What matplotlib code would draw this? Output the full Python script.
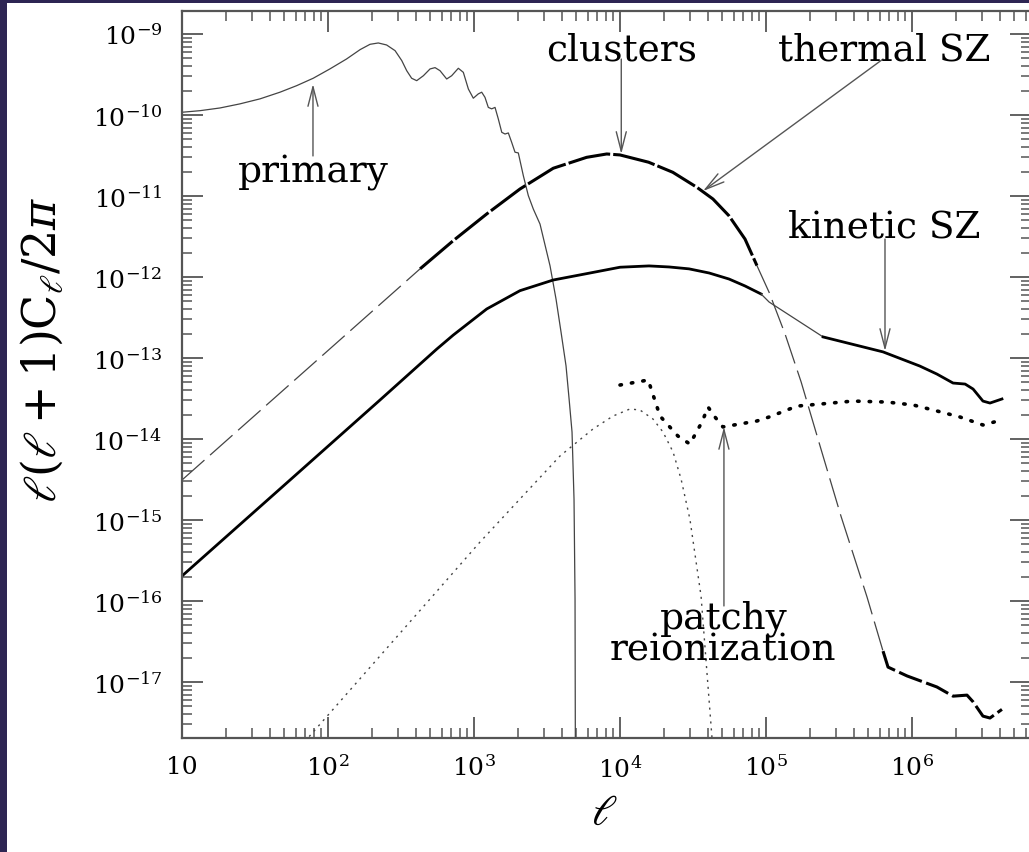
import numpy as np
import matplotlib
matplotlib.use("Agg")
import matplotlib.pyplot as plt
from matplotlib.patches import Rectangle
from matplotlib.ticker import FuncFormatter, FixedLocator, LogLocator, NullFormatter

plt.rcParams['font.family'] = ['DejaVu Serif']
plt.rcParams['mathtext.fontset'] = 'dejavuserif'

# primary CMB
prim_l = np.array([10, 13.3, 18.2, 24.9, 34.2, 46.9, 61.0, 79.2, 103, 134, 166, 194, 221,
                   252, 288, 320, 346, 374, 405, 450, 500, 541, 585, 650, 703, 781, 845,
                   915, 989, 1070, 1129, 1189, 1253, 1321, 1393, 1467, 1549, 1631, 1718,
                   1811, 1909, 2011, 2177, 2355, 2548, 2832, 3318, 3648, 3945, 4268, 4480,
                   4692, 4842, 4920, 4960])
prim_cl = np.array([1.08e-10, 1.13e-10, 1.22e-10, 1.37e-10, 1.58e-10, 1.91e-10, 2.30e-10,
                    2.84e-10, 3.70e-10, 4.91e-10, 6.41e-10, 7.45e-10, 7.74e-10, 7.31e-10,
                    6.22e-10, 4.69e-10, 3.52e-10, 2.84e-10, 2.65e-10, 3.05e-10, 3.70e-10,
                    3.84e-10, 3.52e-10, 2.78e-10, 3.05e-10, 3.77e-10, 3.36e-10, 2.09e-10,
                    1.61e-10, 1.82e-10, 1.91e-10, 1.65e-10, 1.24e-10, 1.19e-10, 1.24e-10,
                    8.93e-11, 6.11e-11, 5.82e-11, 6.0e-11, 4.6e-11, 3.47e-11, 3.40e-11,
                    1.78e-11, 1.01e-11, 6.9e-12, 4.5e-12, 1.37e-12, 5.3e-13, 2.09e-13,
                    8.0e-14, 3.12e-14, 1.22e-14, 1.8e-15, 1.06e-16, 1e-19])

# thermal SZ from clusters
tsz_l = np.array([10, 427, 721, 1222, 2065, 3490, 5910, 8110, 10000, 15700, 23000, 33600,
                  43300, 55700, 71800, 86700, 1.05e5, 1.35e5, 1.74e5, 2.38e5, 3.26e5,
                  4.92e5, 6.33e5, 6.85e5, 9.25e5, 1.48e6, 1.91e6, 2.38e6, 2.62e6, 3.06e6,
                  3.42e6, 4.13e6])
tsz_cl = np.array([3.12e-15, 1.26e-12, 2.81e-12, 6.0e-12, 1.22e-11, 2.2e-11, 3.0e-11,
                   3.30e-11, 3.21e-11, 2.61e-11, 1.96e-11, 1.28e-11, 9.18e-12, 5.71e-12,
                   2.94e-12, 1.38e-12, 6.47e-13, 1.98e-13, 5.06e-14, 7.5e-15, 1.12e-15,
                   1.12e-16, 2.41e-17, 1.53e-17, 1.19e-17, 8.7e-18, 6.7e-18, 6.9e-18,
                   5.7e-18, 3.8e-18, 3.6e-18, 4.6e-18])

# kinetic SZ
ksz_l = np.array([10, 46.9, 227, 556, 721, 1222, 2065, 3490, 5910, 10000, 15800, 21700,
                  29700, 40800, 55800, 71800, 92500, 1.05e5, 2.46e5, 6.33e5, 1.13e6, 1.48e6,
                  1.91e6, 2.31e6, 2.62e6, 3.06e6, 3.42e6, 4.13e6])
ksz_cl = np.array([2.04e-16, 2.42e-15, 3.03e-14, 1.29e-13, 1.92e-13, 4.03e-13, 6.78e-13,
                   9.18e-13, 1.10e-12, 1.32e-12, 1.37e-12, 1.33e-12, 1.26e-12, 1.12e-12,
                   9.44e-13, 7.75e-13, 6.17e-13, 4.91e-13, 1.82e-13, 1.19e-13, 7.96e-14,
                   6.34e-14, 4.91e-14, 4.77e-14, 4.14e-14, 2.94e-14, 2.78e-14, 3.12e-14])

# patchy reionization
patchy_l = np.array([10000, 15600, 18800, 24900, 30100, 36400, 40100, 44700, 50700, 86700,
                     1.05e5, 1.63e5, 2.34e5, 3.94e5, 6.74e5, 1.02e6, 1.48e6, 2.13e6, 3.06e6, 3.88e6])
patchy_cl = np.array([4.64e-14, 5.35e-14, 1.92e-14, 1.09e-14, 8.67e-15, 1.62e-14, 2.48e-14,
                      1.87e-14, 1.41e-14, 1.67e-14, 1.87e-14, 2.55e-14, 2.70e-14, 2.94e-14,
                      2.86e-14, 2.63e-14, 2.22e-14, 1.87e-14, 1.49e-14, 1.67e-14])

# low-l reionization component (thin dotted)
reion_l = np.array([64.3, 500, 1099, 2065, 3880, 6530, 8950, 11700, 13700, 16800, 19700,
                    23100, 26200, 30100, 35900, 42700, 43300])
reion_cl = np.array([1.58e-18, 1.06e-16, 5.35e-16, 1.82e-15, 6.17e-15, 1.33e-14, 1.92e-14,
                     2.35e-14, 2.28e-14, 1.77e-14, 1.22e-14, 6.9e-15, 3.2e-15, 1.03e-15,
                     1.15e-16, 2e-18, 1e-18])

xticks = [1e1, 1e2, 1e3, 1e4, 1e5, 1e6]
yticks = [1e-17, 1e-16, 1e-15, 1e-14, 1e-13, 1e-12, 1e-11, 1e-10, 1e-9]

fig = plt.figure(figsize=(10.29, 8.53), dpi=100)
fig.patch.set_facecolor('#2d2553')
fig.patches.append(Rectangle((7 / 1029, 0), 1, 1 - 4 / 853, transform=fig.transFigure,
                             facecolor='white', edgecolor='none', zorder=-5))
ax = fig.add_axes([182 / 1029, 114 / 853, 849 / 1029, 727 / 853])

thin = '#444444'
ax.plot(prim_l, prim_cl, color=thin, lw=0.9)

# tSZ: thin dashed at low l and along the steep drop, thick elsewhere
m = tsz_l <= 427
ax.plot(tsz_l[m], tsz_cl[m], color=thin, lw=0.9, dashes=(24, 6))
m = (tsz_l >= 427) & (tsz_l <= 86700)
ax.plot(tsz_l[m], tsz_cl[m], color='black', lw=2.2, dashes=(14, 1.0))
m = (tsz_l >= 86700) & (tsz_l <= 6.33e5)
ax.plot(tsz_l[m], tsz_cl[m], color=thin, lw=0.9, dashes=(24, 6))
m = tsz_l >= 6.33e5
ax.plot(tsz_l[m], tsz_cl[m], color='black', lw=2.2, dashes=(8, 1.5))

m = ksz_l <= 92500
ax.plot(ksz_l[m], ksz_cl[m], color='black', lw=2.0)
m = (ksz_l >= 92500) & (ksz_l <= 2.46e5)
ax.plot(ksz_l[m], ksz_cl[m], color=thin, lw=0.9)
m = ksz_l >= 2.46e5
ax.plot(ksz_l[m], ksz_cl[m], color='black', lw=2.0)

ax.plot(patchy_l, patchy_cl, color='black', lw=2.6, dashes=(0.4, 2.8),
        dash_capstyle='round')
ax.plot(reion_l, reion_cl, color=thin, lw=1.0, dashes=(1.5, 3.5))

ax.set_xscale('log')
ax.set_yscale('log')
ax.set_xlim(10, 6.53e6)
ax.set_ylim(2.04e-18, 1.92e-9)

ax.xaxis.set_major_locator(FixedLocator(xticks))
ax.yaxis.set_major_locator(FixedLocator(yticks))
ax.xaxis.set_minor_locator(LogLocator(base=10, subs=np.arange(2, 10), numticks=20))
ax.yaxis.set_minor_locator(LogLocator(base=10, subs=np.arange(2, 10), numticks=20))
ax.xaxis.set_minor_formatter(NullFormatter())
ax.yaxis.set_minor_formatter(NullFormatter())


def fmt(v, pos):
    n = int(round(np.log10(v)))
    if n == 1:
        return '10'
    return r'$10^{%d}$' % n


ax.xaxis.set_major_formatter(FuncFormatter(fmt))
ax.yaxis.set_major_formatter(FuncFormatter(fmt))

ax.tick_params(which='both', direction='in', top=True, right=True, colors='#555555',
               labelcolor='black', labelsize=18)
ax.tick_params(which='major', length=15, width=1.3)
ax.tick_params(which='minor', length=7.5, width=1.1)
ax.tick_params(axis='y', which='major', pad=14)
ax.tick_params(axis='x', which='major', pad=12)
for s in ax.spines.values():
    s.set_color('#555555')
    s.set_linewidth(1.6)

ax.set_xlabel(r'$\ell$', fontsize=31)
ax.xaxis.set_label_coords(0.497, -0.102)
ax.xaxis.label.set_va('center')
ax.set_ylabel(r'$\ell(\ell+1)\mathrm{C}_\ell/2\pi$', fontsize=33)
ax.yaxis.set_label_coords(-0.164, 0.535)
ax.yaxis.label.set_va('center')

# labels and arrows
arrow = dict(arrowstyle='->, head_length=0.7, head_width=0.18', color='#555555', lw=1.0,
             mutation_scale=20, shrinkA=0, shrinkB=0)
tsize = 27
ax.annotate('', xy=(78.9, 2.41e-10), xytext=(78.9, 3.12e-11), arrowprops=arrow)
ax.text(78.9, 1.53e-11, 'primary', ha='center', va='baseline', fontsize=tsize)

ax.annotate('', xy=(10200, 3.3e-11), xytext=(10200, 4.9e-10), arrowprops=arrow)
ax.text(10200, 4.9e-10, 'clusters', ha='center', va='baseline', fontsize=tsize)
ax.annotate('', xy=(37000, 1.15e-11), xytext=(6.33e5, 4.9e-10), arrowprops=arrow)
ax.text(6.5e5, 4.9e-10, 'thermal SZ', ha='center', va='baseline', fontsize=tsize)

ax.annotate('', xy=(6.53e5, 1.22e-13), xytext=(6.53e5, 2.94e-12), arrowprops=arrow)
ax.text(6.5e5, 3.12e-12, 'kinetic SZ', ha='center', va='baseline', fontsize=tsize)

ax.annotate('', xy=(51500, 1.41e-14), xytext=(51500, 8.7e-17), arrowprops=arrow)
ax.text(51000, 1.92e-17, 'patchy\nreionization', ha='center', va='baseline',
        multialignment='center', linespacing=0.82, fontsize=tsize)

fig.savefig('out.png', dpi=100, facecolor=fig.get_facecolor())
